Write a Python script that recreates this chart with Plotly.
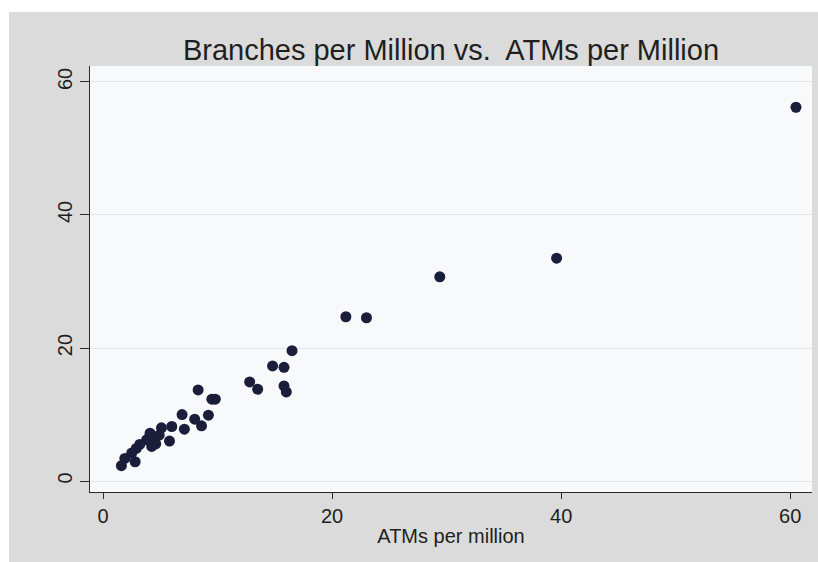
import plotly.graph_objects as go

# ATMs and branches per million inhabitants, one point per country
atms_per_million = [
    60.5, 39.6, 29.4, 21.2, 23.0, 16.5, 14.8, 15.8, 12.8, 13.5,
    15.8, 16.0, 8.3, 9.5, 9.8, 6.9, 8.0, 8.6, 9.2, 7.1,
    5.1, 6.0, 5.8, 4.1, 4.5, 3.8, 4.25, 3.2, 2.9, 2.5,
    2.8, 1.9, 1.6, 4.9, 4.6,
]
branches_per_million = [
    56.2, 33.5, 30.7, 24.7, 24.55, 19.6, 17.3, 17.1, 14.9, 13.8,
    14.3, 13.4, 13.7, 12.3, 12.3, 10.0, 9.3, 8.3, 9.9, 7.8,
    8.0, 8.2, 6.0, 7.2, 6.4, 6.2, 5.2, 5.5, 4.9, 4.2,
    2.9, 3.4, 2.3, 6.9, 5.6,
]
tick_values = [0, 20, 40, 60]

FONT = "Liberation Sans, Arial, sans-serif"
INK = "#1f1f1f"

fig = go.Figure(
    go.Scatter(
        x=atms_per_million,
        y=branches_per_million,
        mode="markers",
        marker=dict(size=11, color="#1b1e3b", line=dict(width=0)),
        showlegend=False,
    )
)

axis_common = dict(
    showline=True,
    linecolor="#2a2a2a",
    linewidth=1,
    ticks="outside",
    tickcolor="#2a2a2a",
    tickfont=dict(family=FONT, size=20, color=INK),
    tickvals=tick_values,
    zeroline=False,
)

fig.update_layout(
    width=818,
    height=562,
    margin=dict(l=90, r=6, t=66, b=70),
    paper_bgcolor="#dbdbdb",
    plot_bgcolor="#f8f9fb",
    title=dict(
        text="Branches per Million vs.  ATMs per Million",
        font=dict(family=FONT, size=29, color=INK),
        x=0.5,
        xref="paper",
        xanchor="center",
        y=1 - 50 / 562,
        yanchor="middle",
    ),
    xaxis=dict(
        **axis_common,
        range=[-1.14, 61.9],
        ticklen=6,
        showgrid=False,
        title=dict(text="ATMs per million", font=dict(family=FONT, size=20, color=INK), standoff=2),
    ),
    yaxis=dict(
        **axis_common,
        range=[-1.65, 62.4],
        ticklen=9,
        tickangle=-90,
        showgrid=True,
        gridcolor="#e3e5ea",
        gridwidth=1,
    ),
    shapes=[
        # thin white border along the left and top edges of the page
        dict(type="rect", xref="paper", yref="paper", x0=-0.2, x1=-0.1122, y0=-0.3, y1=1.3,
             fillcolor="#ffffff", line=dict(width=0), layer="below"),
        dict(type="rect", xref="paper", yref="paper", x0=-0.2, x1=1.1, y0=1.1268, y1=1.3,
             fillcolor="#ffffff", line=dict(width=0), layer="below"),
    ],
)

fig.write_html("out.html")
